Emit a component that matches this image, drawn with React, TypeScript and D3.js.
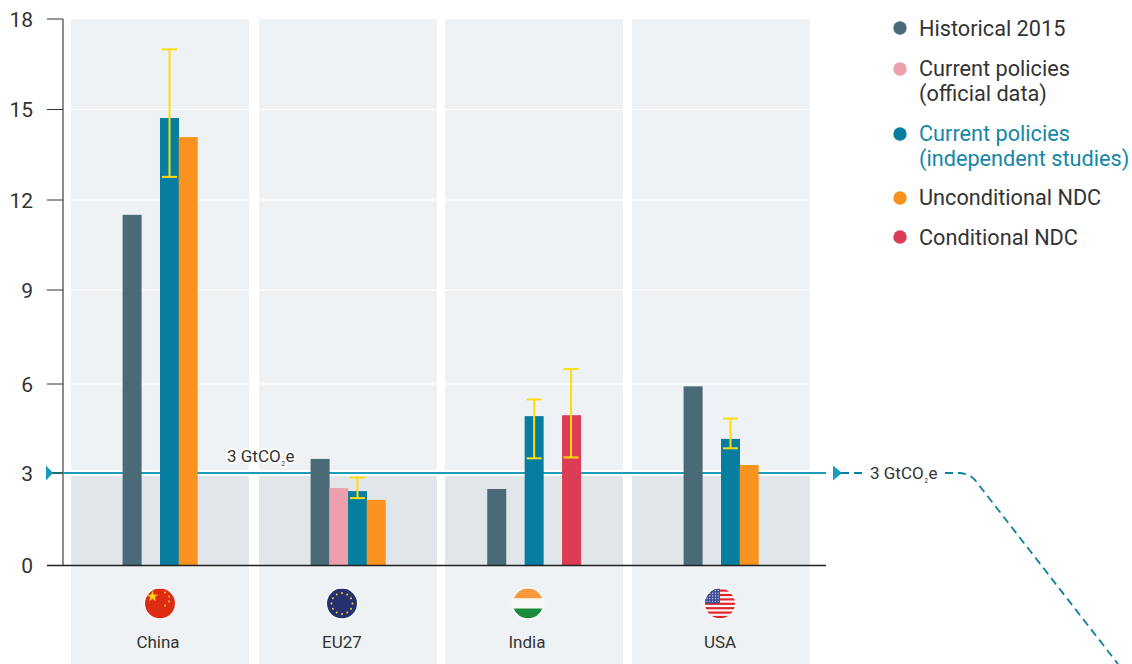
import React from "react";
import * as d3 from "d3";

const categories = ["China", "EU27", "India", "USA"];
const yTicks = [0, 3, 6, 9, 12, 15, 18];
const threshold = 3;
const thresholdText = "3 GtCO";

const seriesNames = ["historical", "official", "independent", "unconditional", "conditional"];
const historical = [11.55, 3.51, 2.52, 5.9];
const official = [null, 2.55, null, null];
const independent = [14.74, 2.45, 4.92, 4.17];
const unconditional = [14.11, 2.16, null, 3.31];
const conditional = [null, null, 4.95, null];

const independentLow = [12.8, 2.22, 3.53, 3.86];
const independentHigh = [17.0, 2.9, 5.47, 4.84];
const conditionalLow = [null, null, 3.56, null];
const conditionalHigh = [null, null, 6.47, null];

const legendLabels = [
  ["Historical 2015"],
  ["Current policies", "(official data)"],
  ["Current policies", "(independent studies)"],
  ["Unconditional NDC"],
  ["Conditional NDC"],
];

const seriesValues: Record<string, (number | null)[]> = {
  historical, official, independent, unconditional, conditional,
};
const colors: Record<string, string> = {
  historical: "#4a6a77",
  official: "#ee9fac",
  independent: "#077d9f",
  unconditional: "#f9921e",
  conditional: "#dc3c55",
};

const W = 1132;
const H = 664;
const TEXT = "#333333";
const FONT = "Roboto, sans-serif";
const panelNudge: Record<string, number> = { China: 0, EU27: 1, India: 0, USA: 0 };
const flagShift: Record<string, number> = { China: 0, EU27: -6, India: -6, USA: -1 };
const labelShift: Record<string, number> = { China: -2, EU27: -6, India: -7, USA: -1 };

const y = d3.scaleLinear().domain([0, 18]).range([565.5, 19]);
// The axis ticks of the original sit on slightly uneven pixel rows.
const yAxis = d3.scaleLinear().domain(yTicks).range([565.5, 473, 384, 290, 200, 109.5, 19]);
const xBase = d3.scaleBand<string>().domain(categories).range([71, 810]).paddingInner(9 / 187).paddingOuter(0);
const xPanel = (c: string) => xBase(c)! + panelNudge[c];
const slotStep = 18.7;

function slotX(cat: string, catIndex: number, series: string) {
  const used = seriesNames
    .map((s, i) => (seriesValues[s][catIndex] != null ? i : -1))
    .filter((i) => i >= 0);
  const first = used[0];
  const last = used[used.length - 1];
  const span = (last - first + 1) * slotStep;
  const slot = d3.scaleBand<number>()
    .domain(d3.range(first, last + 1))
    .range([xPanel(cat) + (xBase.bandwidth() - span) / 2, xPanel(cat) + (xBase.bandwidth() + span) / 2]);
  return slot(seriesNames.indexOf(series))!;
}

function ErrorBar({ cx, lo, hi }: { cx: number; lo: number; hi: number }) {
  const c = "#ffdd0d";
  return (
    <g stroke={c} strokeWidth={2} fill="none">
      <line x1={cx} x2={cx} y1={y(lo)} y2={y(hi)} />
      <line x1={cx - 7.5} x2={cx + 7.5} y1={y(lo)} y2={y(lo)} />
      <line x1={cx - 7.5} x2={cx + 7.5} y1={y(hi)} y2={y(hi)} />
    </g>
  );
}

function GtLabel({ x, yy, size }: { x: number; yy: number; size: number }) {
  return (
    <text x={x} y={yy} fontSize={size} fill={TEXT} stroke="#fff" strokeWidth={4} strokeLinejoin="round"
      style={{ paintOrder: "stroke" }} textAnchor="start">
      {thresholdText}
      <tspan fontSize={size * 0.4} dy={4} dx={0.5}>2</tspan>
      <tspan dy={-4} dx={0.5}>e</tspan>
    </text>
  );
}

function Flag({ cat, cx, cy }: { cat: string; cx: number; cy: number }) {
  const r = 15;
  const id = `clip-${cat}`;
  const star = d3.symbol().type(d3.symbolStar);
  let content: React.ReactNode = null;
  if (cat === "China") {
    const small = [[6, -2], [10, 2], [10, 7], [6, 11]];
    content = (
      <g>
        <rect x={-r} y={-r} width={2 * r} height={2 * r} fill="#de2c14" />
        <path d={star.size(40)()!} transform="translate(-7.5,-7)" fill="#ffd51a" />
        {small.map((p, i) => (
          <circle key={i} cx={p[0] - 1} cy={p[1] - 9} r={1} fill="#ffc81a" />
        ))}
      </g>
    );
  } else if (cat === "EU27") {
    content = (
      <g>
        <rect x={-r} y={-r} width={2 * r} height={2 * r} fill="#27316f" />
        {d3.range(12).map((i) => (
          <circle key={i} cx={10.5 * Math.cos((i * Math.PI) / 6)} cy={10.5 * Math.sin((i * Math.PI) / 6)} r={1} fill="#f4d02a" />
        ))}
      </g>
    );
  } else if (cat === "India") {
    content = (
      <g>
        <rect x={-r} y={-r} width={2 * r} height={10} fill="#f8993c" />
        <rect x={-r} y={-5} width={2 * r} height={10} fill="#f8f8f8" />
        <rect x={-r} y={5} width={2 * r} height={10} fill="#1b8a3a" />
      </g>
    );
  } else {
    content = (
      <g>
        <rect x={-r} y={-r} width={2 * r} height={2 * r} fill="#f7f7f7" />
        {d3.range(7).map((i) => (
          <rect key={i} x={-r} y={-r + 1 + i * 4.4} width={2 * r} height={2.2} fill="#e3262c" />
        ))}
        <rect x={-r} y={-r} width={15} height={15} fill="#3f4f9a" />
        {d3.range(5).map((row) =>
          d3.range(5).map((col) => (
            <circle key={`${row}-${col}`} cx={-r + 2 + col * 2.8} cy={-r + 2 + row * 2.7} r={0.6} fill="#dfe4f5" />
          ))
        )}
      </g>
    );
  }
  return (
    <g transform={`translate(${cx},${cy})`}>
      <clipPath id={id}><circle r={r} /></clipPath>
      <circle r={r + 1.5} fill="#f8f9fb" />
      <g clipPath={`url(#${id})`}>{content}</g>
    </g>
  );
}

const legendRows = [
  { dotY: 28, lines: [36, 0] },
  { dotY: 69, lines: [76, 101] },
  { dotY: 134, lines: [141, 166] },
  { dotY: 198, lines: [205, 0] },
  { dotY: 237, lines: [245, 0] },
];

export default function App() {
  const yT = yAxis(threshold);
  const curve = d3.path();
  curve.moveTo(841, yT);
  curve.lineTo(958, yT);
  curve.quadraticCurveTo(968, yT, 975, 480);
  curve.lineTo(1118, 664);

  return (
    <svg width={W} height={H} viewBox={`0 0 ${W} ${H}`} fontFamily={FONT}
      style={{ position: "absolute", left: 0, top: 0, display: "block", background: "#fff" }}>
      {categories.map((c) => (
        <g key={c}>
          <rect x={xPanel(c)} y={19} width={xBase.bandwidth()} height={H - 19} fill="#eef2f5" />
          <rect x={xPanel(c)} y={476} width={xBase.bandwidth()} height={y(0) - 476} fill="#e1e6ea" />
        </g>
      ))}
      {yTicks.filter((t) => t > 0 && t < 18 && t !== threshold).map((t) => (
        <line key={t} x1={64} x2={810} y1={yAxis(t)} y2={yAxis(t)} stroke="#fff" strokeWidth={1} />
      ))}

      <line x1={47} x2={826} y1={yT} y2={yT} stroke="#fff" strokeWidth={6} />
      <line x1={47} x2={826} y1={yT} y2={yT} stroke="#1c9cba" strokeWidth={2} />

      {categories.map((c, i) => (
        <g key={c}>
          {seriesNames.map((s) => {
            const v = seriesValues[s][i];
            if (v == null) return null;
            return <rect key={s} x={slotX(c, i, s)} y={y(v)} width={19} height={y(0) - y(v)} fill={colors[s]} />;
          })}
          <ErrorBar cx={slotX(c, i, "independent") + 9.5} lo={independentLow[i]} hi={independentHigh[i]} />
          {conditionalLow[i] != null && (
            <ErrorBar cx={slotX(c, i, "conditional") + 9} lo={conditionalLow[i]!} hi={conditionalHigh[i]!} />
          )}
        </g>
      ))}

      <line x1={63} x2={63} y1={19} y2={y(0)} stroke="#707070" strokeWidth={1.6} />
      {yTicks.filter((t) => t > 0).map((t) => (
        <line key={t} x1={47} x2={63} y1={yAxis(t)} y2={yAxis(t)} stroke="#333" strokeWidth={1} />
      ))}
      <line x1={47} x2={826} y1={y(0)} y2={y(0)} stroke="#222" strokeWidth={1.5} />
      {yTicks.map((t) => (
        <text key={t} x={33} y={yAxis(t) + 7.5} textAnchor="end" fontSize={21} fill={TEXT}>{t}</text>
      ))}

      <path d="M46,465.5 L53,473 L46,480.5 Z" fill="#169cbc" />
      <path d="M833,465.5 L842,473 L833,480.5 Z" fill="#169cbc" />
      <path d={curve.toString()} fill="none" stroke="#0a7f9f" strokeWidth={1.8} strokeDasharray="8 5" />

      <GtLabel x={227} yy={462} size={17} />
      <rect x={866} y={462} width={74} height={22} fill="#fff" />
      <GtLabel x={870} yy={479} size={17} />

      {categories.map((c) => {
        const mid = xPanel(c) + xBase.bandwidth() / 2;
        return (
          <g key={c}>
            <Flag cat={c} cx={mid + flagShift[c]} cy={603.5} />
            <text x={mid + labelShift[c]} y={647.5} textAnchor="middle" fontSize={17} fill={TEXT}>{c}</text>
          </g>
        );
      })}

      {legendLabels.map((lines, i) => {
        const s = seriesNames[i];
        const row = legendRows[i];
        return (
          <g key={s}>
            <circle cx={900} cy={row.dotY} r={6.7} fill={colors[s]} />
            {lines.map((l, j) => (
              <text key={j} x={919} y={row.lines[j]} fontSize={21.7} fill={s === "independent" ? "#1387a5" : TEXT}>{l}</text>
            ))}
          </g>
        );
      })}
    </svg>
  );
}
